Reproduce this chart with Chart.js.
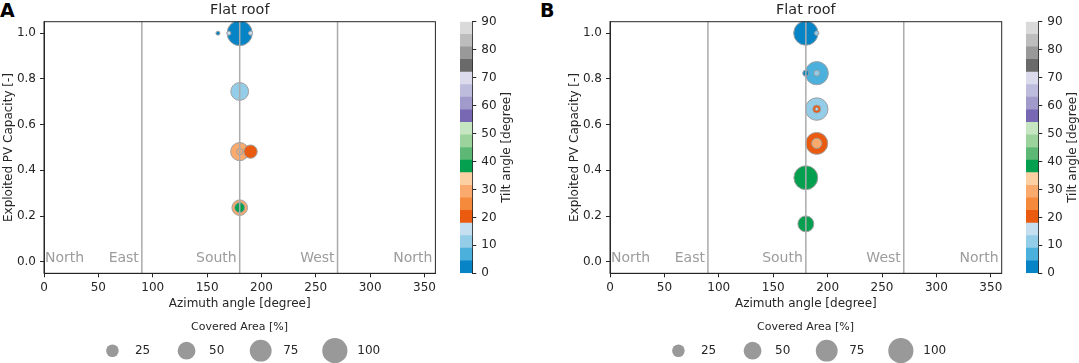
<!DOCTYPE html>
<html>
<head>
<meta charset="utf-8">
<script src="https://cdn.jsdelivr.net/npm/chart.js@4.4.1/dist/chart.umd.min.js"></script>
<style>
  html, body { margin: 0; padding: 0; background: #fff; width: 1079px; height: 363px; overflow: hidden; }
  body { position: relative; font-family: 'DejaVu Sans', sans-serif; }
  canvas, .panel-label { position: absolute; }
  .panel-label { font-weight: bold; font-size: 19px; line-height: 19px; color: #000; }
</style>
</head>
<body>
<div class="panel-label" style="left:0px;top:1px">A</div>
<div class="panel-label" style="left:540px;top:1px">B</div>
<canvas id="mainA" width="449" height="363" style="left:0px;top:0px"></canvas>
<canvas id="cbarA" width="56" height="363" style="left:460px;top:0px"></canvas>
<canvas id="legA" width="417" height="64" style="left:31.4px;top:312px"></canvas>
<canvas id="mainB" width="449" height="363" style="left:566px;top:0px"></canvas>
<canvas id="cbarB" width="56" height="363" style="left:1026px;top:0px"></canvas>
<canvas id="legB" width="417" height="64" style="left:597.4px;top:312px"></canvas>
<script>
// Panel A - flat roof
const azimuthA  = [180, 180, 180, 190, 180, 180, 160, 170, 190, 180];
const capacityA = [1.0, 0.745, 0.482, 0.482, 0.237, 0.237, 1.0, 1.0, 1.0, 0.482];
const tiltA     = [0, 10, 30, 20, 30, 40, 0, 15, 15, 30];
const areaA     = [100, 50, 52, 28, 38, 16, 2.5, 2.5, 2.5, 6];

// Panel B - flat roof
const azimuthB  = [180, 190, 190, 190, 180, 180, 190, 180, 190, 190, 190, 190];
const capacityB = [1.0, 0.825, 0.668, 0.518, 0.368, 0.166, 1.0, 0.825, 0.825, 0.668, 0.668, 0.518];
const tiltB     = [0, 5, 10, 20, 40, 40, 10, 0, 10, 20, 15, 30];
const areaB     = [93, 85, 80, 76, 90, 40, 3, 6, 5, 10, 1.5, 16];

// axes
const xTicks = [0, 50, 100, 150, 200, 250, 300, 350];
const yTicks = [0.0, 0.2, 0.4, 0.6, 0.8, 1.0];
const cbarTicks = [0, 10, 20, 30, 40, 50, 60, 70, 80, 90];
const meridians = [90, 180, 270];
const directionNames = ['North', 'East', 'South', 'West', 'North'];
const directionAngles = [0, 90, 180, 270, 360];

// size legend
const sizeValues = [25, 50, 75, 100];
const sizeLabels = ['25', '50', '75', '100'];

// tab20c-like colormap, 20 bins over 0-90 degree
const cmap = ['#0784c6', '#4bb0dc', '#93cde8', '#c5dff1',
              '#ea5a0f', '#f58a3d', '#f9aa6c', '#fdd0a4',
              '#05a04f', '#5cb874', '#9cd39c', '#c6e6c2',
              '#7868b3', '#a09bcb', '#bdbcdd', '#dcdbed',
              '#6a6a6a', '#999999', '#bdbdbd', '#dadada'];

const TEXT = '#262626';
const GRAY_TEXT = '#9c9c9c';
Chart.defaults.font.family = "'DejaVu Sans', sans-serif";
Chart.defaults.color = TEXT;

function tiltColor(t) {
  return cmap[Math.min(cmap.length - 1, Math.floor(t / (90 / cmap.length)))];
}
function areaToRadius(a) {
  return 12.6 * Math.sqrt(a / 100);
}

// top/right spines plus direction labels
const framePlugin = {
  id: 'frame',
  afterDatasetsDraw(chart) {
    const {ctx, chartArea: ca, scales} = chart;
    ctx.save();
    ctx.font = "14px 'DejaVu Sans'";
    ctx.fillStyle = GRAY_TEXT;
    ctx.textBaseline = 'alphabetic';
    directionNames.forEach((name, i) => {
      const px = scales.x.getPixelForValue(directionAngles[i]);
      const py = scales.y.getPixelForValue(0);
      if (i === 0) {
        ctx.textAlign = 'left';
        ctx.fillText(name, px + 1, py);
      } else {
        ctx.textAlign = 'right';
        ctx.fillText(name, px - 3, py);
      }
    });
    ctx.strokeStyle = TEXT;
    ctx.lineWidth = 1;
    ctx.strokeRect(ca.left, ca.top, ca.right - ca.left, ca.bottom - ca.top);
    ctx.restore();
  }
};

function makeMain(id, az, cap, tilt, area) {
  const yMin = -0.05, yMax = 1.05;
  const lines = meridians.map(m => ({
    type: 'line',
    data: [{x: m, y: yMin}, {x: m, y: yMax}],
    borderColor: '#ababab',
    borderWidth: 1.5,
    pointRadius: 0,
    fill: false,
    order: 0
  }));
  new Chart(document.getElementById(id), {
    type: 'bubble',
    data: {
      datasets: [{
        data: az.map((x, i) => ({x: x, y: cap[i], r: areaToRadius(area[i])})),
        backgroundColor: tilt.map(tiltColor),
        borderColor: '#a0a0a0',
        borderWidth: 1,
        hoverRadius: 0,
        clip: 0,
        order: 1
      }].concat(lines)
    },
    options: {
      responsive: false,
      animation: false,
      events: [],
      layout: { padding: { top: 0, left: 0, right: 13.3, bottom: 51.8 } },
      plugins: {
        legend: { display: false },
        tooltip: { enabled: false },
        title: {
          display: true,
          text: 'Flat roof',
          fullSize: false,
          color: TEXT,
          font: { size: 14.4, weight: 'normal' },
          padding: { top: 2, bottom: 2.42 }
        }
      },
      scales: {
        x: {
          type: 'linear',
          min: 0, max: 360,
          afterBuildTicks: s => { s.ticks = xTicks.map(v => ({value: v})); },
          afterFit: s => { s.height = 37.9; },
          grid: { drawOnChartArea: false, drawTicks: true, tickLength: 4, tickColor: TEXT },
          border: { display: true, color: TEXT, width: 1 },
          ticks: { padding: 3, color: TEXT, font: { size: 12 }, maxRotation: 0 },
          title: { display: true, text: 'Azimuth angle [degree]', color: TEXT, font: { size: 12 }, padding: { top: 0, bottom: 0 } }
        },
        y: {
          type: 'linear',
          min: yMin, max: yMax,
          afterBuildTicks: s => { s.ticks = yTicks.map(v => ({value: v})); },
          afterFit: s => { s.width = 44; },
          grid: { drawOnChartArea: false, drawTicks: true, tickLength: 4, tickColor: TEXT },
          border: { display: true, color: TEXT, width: 1 },
          ticks: { padding: 4, color: TEXT, font: { size: 12 }, callback: v => v.toFixed(1) },
          title: { display: true, text: 'Exploited PV Capacity [-]', color: TEXT, font: { size: 12 }, padding: { top: 2, bottom: 0 } }
        }
      }
    },
    plugins: [framePlugin]
  });
}

const cbarTitlePlugin = {
  id: 'cbarTitle',
  afterDraw(chart) {
    const {ctx, chartArea: ca, width} = chart;
    ctx.save();
    ctx.translate(width - 9.2, (ca.top + ca.bottom) / 2);
    ctx.rotate(-Math.PI / 2);
    ctx.font = "12px 'DejaVu Sans'";
    ctx.fillStyle = TEXT;
    ctx.textAlign = 'center';
    ctx.textBaseline = 'middle';
    ctx.fillText('Tilt angle [degree]', 0, 0);
    ctx.restore();
  }
};

function makeColorbar(id) {
  new Chart(document.getElementById(id), {
    type: 'bar',
    data: {
      labels: [''],
      datasets: cmap.map(c => ({
        data: [90 / cmap.length],
        backgroundColor: c,
        borderWidth: 0,
        barPercentage: 1,
        categoryPercentage: 1
      }))
    },
    options: {
      responsive: false,
      animation: false,
      events: [],
      layout: { padding: { top: 21.7, bottom: 89.7, left: 0, right: 0 } },
      plugins: { legend: { display: false }, tooltip: { enabled: false } },
      scales: {
        x: { display: false, stacked: true },
        y: {
          stacked: true,
          position: 'right',
          min: 0, max: 90,
          afterBuildTicks: s => { s.ticks = cbarTicks.map(v => ({value: v})); },
          afterFit: s => { s.width = 43.7; },
          grid: { drawOnChartArea: false, drawTicks: true, tickLength: 4, tickColor: TEXT },
          border: { display: true, color: TEXT, width: 1 },
          ticks: { padding: 5, color: TEXT, font: { size: 12 } }
        }
      }
    },
    plugins: [cbarTitlePlugin]
  });
}

const sizeLabelPlugin = {
  id: 'sizeLabels',
  afterDatasetsDraw(chart) {
    const {ctx} = chart;
    const meta = chart.getDatasetMeta(0);
    ctx.save();
    ctx.font = "12px 'DejaVu Sans'";
    ctx.fillStyle = TEXT;
    ctx.textAlign = 'left';
    ctx.textBaseline = 'middle';
    meta.data.forEach((el, i) => {
      ctx.fillText(sizeLabels[i], el.x + 22.5, el.y);
    });
    ctx.restore();
  }
};

function makeSizeLegend(id) {
  new Chart(document.getElementById(id), {
    type: 'bubble',
    data: {
      datasets: [{
        data: sizeValues.map((v, i) => ({x: i, y: 0, r: areaToRadius(v)})),
        backgroundColor: '#999999',
        borderWidth: 0,
        hoverRadius: 0,
        clip: false
      }]
    },
    options: {
      responsive: false,
      animation: false,
      events: [],
      layout: { padding: 0 },
      plugins: {
        legend: { display: false },
        tooltip: { enabled: false },
        title: {
          display: true,
          text: 'Covered Area [%]',
          color: TEXT,
          font: { size: 11, weight: 'normal' },
          padding: { top: 8.8, bottom: 4 }
        }
      },
      scales: {
        x: { display: false, min: -0.928, max: 4.356 },
        y: { display: false, min: -1, max: 1 }
      }
    },
    plugins: [sizeLabelPlugin]
  });
}

makeMain('mainA', azimuthA, capacityA, tiltA, areaA);
makeColorbar('cbarA');
makeSizeLegend('legA');
makeMain('mainB', azimuthB, capacityB, tiltB, areaB);
makeColorbar('cbarB');
makeSizeLegend('legB');
</script>
</body>
</html>
